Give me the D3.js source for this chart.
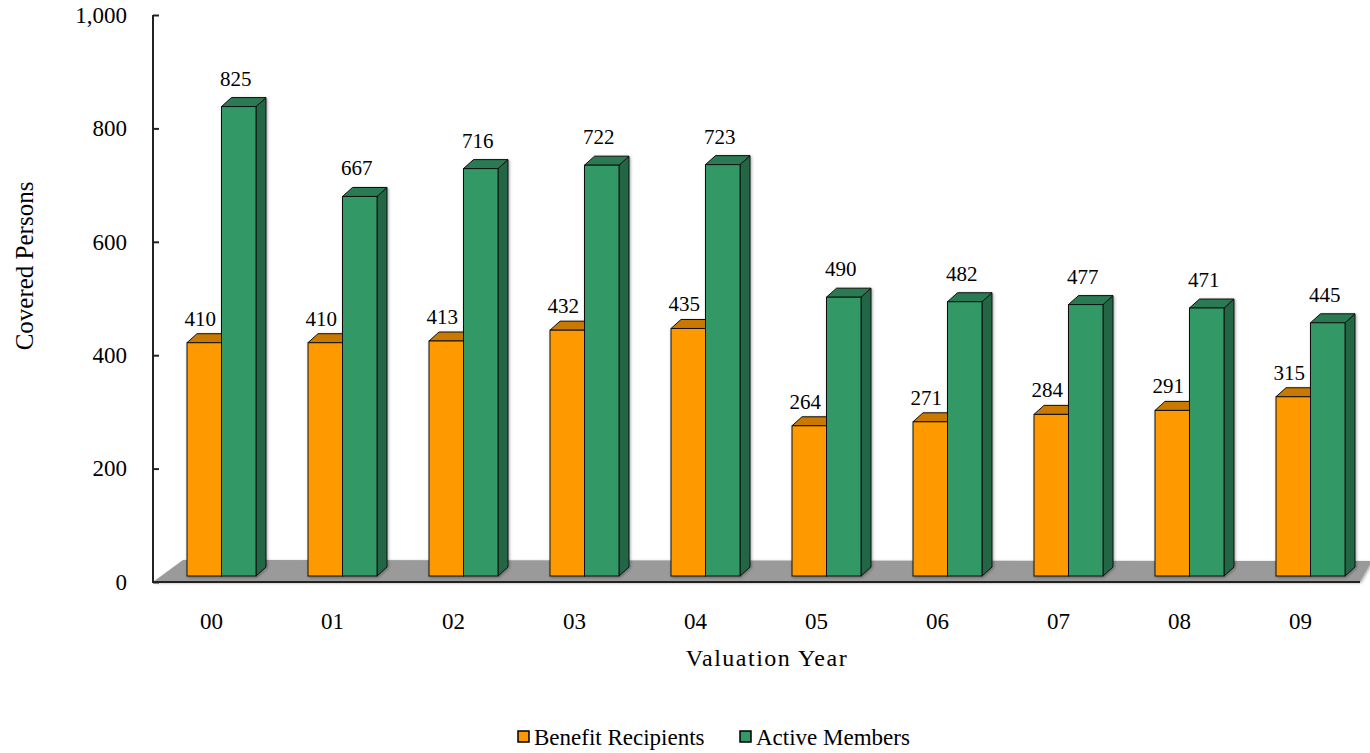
<!DOCTYPE html>
<html>
<head>
<meta charset="utf-8">
<script src="https://cdn.jsdelivr.net/npm/d3@7"></script>
<style>
  body { margin: 0; background: #fff; }
  svg { display: block; }
</style>
</head>
<body>
<svg id="chart" width="1370" height="753"></svg>
<script>
const years = ['00', '01', '02', '03', '04', '05', '06', '07', '08', '09'];
const benefitRecipients = [410, 410, 413, 432, 435, 264, 271, 284, 291, 315];
const activeMembers = [825, 667, 716, 722, 723, 490, 482, 477, 471, 445];
const yTicks = [0, 200, 400, 600, 800, 1000];

const svg = d3.select('#chart');
const font = "'Liberation Serif', 'Times New Roman', serif";

// 스케일
const x = d3.scaleBand().domain(years).range([153, 1363]);
const yAxisScale = d3.scaleLinear().domain([0, 1000]).range([582, 15]);
const yBar = d3.scaleLinear().domain([0, 1000]).range([576, 7]);

const barW = 34.5;
const dx = 10, dy = 9;

const defs = svg.append('defs');
defs.append('filter').attr('id', 'shadow')
  .attr('x', '-20%').attr('y', '-20%').attr('width', '140%').attr('height', '140%')
  .append('feDropShadow')
  .attr('dx', 1).attr('dy', 1).attr('stdDeviation', 1.5)
  .attr('flood-color', '#000').attr('flood-opacity', 0.35);

/****************** 바닥 ******************/
const x0 = x.range()[0], x1 = x.range()[1];
svg.append('polygon')
  .attr('points', [[x0, 582], [x1 - 3, 582], [x1 + 9, 561], [x0 + 30, 560]].map(p => p.join(',')).join(' '))
  .attr('fill', '#9a9a9a')
  .attr('filter', 'url(#shadow)');

/****************** 막대 ******************/
function drawBar(g, bx, v, cFront, cTop, cSide) {
  const yt = yBar(v), yb = yBar(0);
  g.append('polygon')
    .attr('points', [[bx + barW, yt], [bx + barW + dx, yt - dy], [bx + barW + dx, yb - dy], [bx + barW, yb]].map(p => p.join(',')).join(' '))
    .attr('fill', cSide).attr('stroke', '#111').attr('stroke-width', 1).attr('stroke-linejoin', 'round');
  g.append('polygon')
    .attr('points', [[bx, yt], [bx + dx, yt - dy], [bx + barW + dx, yt - dy], [bx + barW, yt]].map(p => p.join(',')).join(' '))
    .attr('fill', cTop).attr('stroke', '#111').attr('stroke-width', 1).attr('stroke-linejoin', 'round');
  g.append('rect')
    .attr('x', bx).attr('y', yt).attr('width', barW).attr('height', yb - yt)
    .attr('fill', cFront).attr('stroke', '#111').attr('stroke-width', 1);
}

const barsG = svg.append('g');
years.forEach((yr, i) => {
  const bx = x(yr) + 34;
  const g = barsG.append('g').attr('filter', 'url(#shadow)');
  drawBar(g, bx, benefitRecipients[i], '#ff9900', '#c97800', '#b56c00');
  drawBar(g, bx + barW, activeMembers[i], '#339966', '#2a7a52', '#226644');
});

// 값 라벨
years.forEach((yr, i) => {
  const bx = x(yr) + 34;
  svg.append('text').text(benefitRecipients[i])
    .attr('x', bx + barW / 2 - 4).attr('y', yBar(benefitRecipients[i]) - 17)
    .attr('text-anchor', 'middle').attr('font-family', font).attr('font-size', '21px').attr('fill', '#000');
  svg.append('text').text(activeMembers[i])
    .attr('x', bx + barW + barW / 2 - 3).attr('y', yBar(activeMembers[i]) - 21)
    .attr('text-anchor', 'middle').attr('font-family', font).attr('font-size', '21px').attr('fill', '#000');
});

/****************** 축 ******************/
const yAxis = svg.append('g')
  .attr('transform', `translate(${x0},0)`)
  .call(d3.axisLeft(yAxisScale).tickValues(yTicks).tickFormat(d3.format(',')).tickSize(-6).tickPadding(26));
yAxis.select('.domain').attr('d', `M0,${yAxisScale(1000)}V${yAxisScale(0)}`).attr('stroke', '#222').attr('stroke-width', 2);
yAxis.selectAll('.tick line').attr('stroke', '#222').attr('stroke-width', 2);
yAxis.selectAll('.tick text').attr('font-family', font).attr('font-size', '23px').attr('fill', '#000');

svg.append('line')
  .attr('x1', x0 - 1).attr('x2', x1 - 3).attr('y1', 582).attr('y2', 582)
  .attr('stroke', '#222').attr('stroke-width', 2);

// x축 라벨
years.forEach(yr => {
  svg.append('text').text(yr)
    .attr('x', x(yr) + x.bandwidth() / 2 - 2).attr('y', 629)
    .attr('text-anchor', 'middle').attr('font-family', font).attr('font-size', '23px').attr('fill', '#000');
});

svg.append('text').text('Valuation Year')
  .attr('x', 767).attr('y', 666)
  .attr('text-anchor', 'middle').attr('font-family', font).attr('font-size', '24px')
  .attr('letter-spacing', '1.5px').attr('fill', '#000');

svg.append('text').text('Covered Persons')
  .attr('transform', 'translate(33,266) rotate(-90)')
  .attr('text-anchor', 'middle').attr('font-family', font).attr('font-size', '25px').attr('fill', '#000');

/****************** 범례 ******************/
const legend = [
  { name: 'Benefit Recipients', color: '#ff9900', x: 518 },
  { name: 'Active Members', color: '#339966', x: 740 },
];
legend.forEach(l => {
  svg.append('rect')
    .attr('x', l.x).attr('y', 731).attr('width', 11).attr('height', 11)
    .attr('fill', l.color).attr('stroke', '#000').attr('stroke-width', 1.5);
  svg.append('text').text(l.name)
    .attr('x', l.x + 16).attr('y', 745)
    .attr('font-family', font).attr('font-size', '23px').attr('fill', '#000');
});
</script>
</body>
</html>
